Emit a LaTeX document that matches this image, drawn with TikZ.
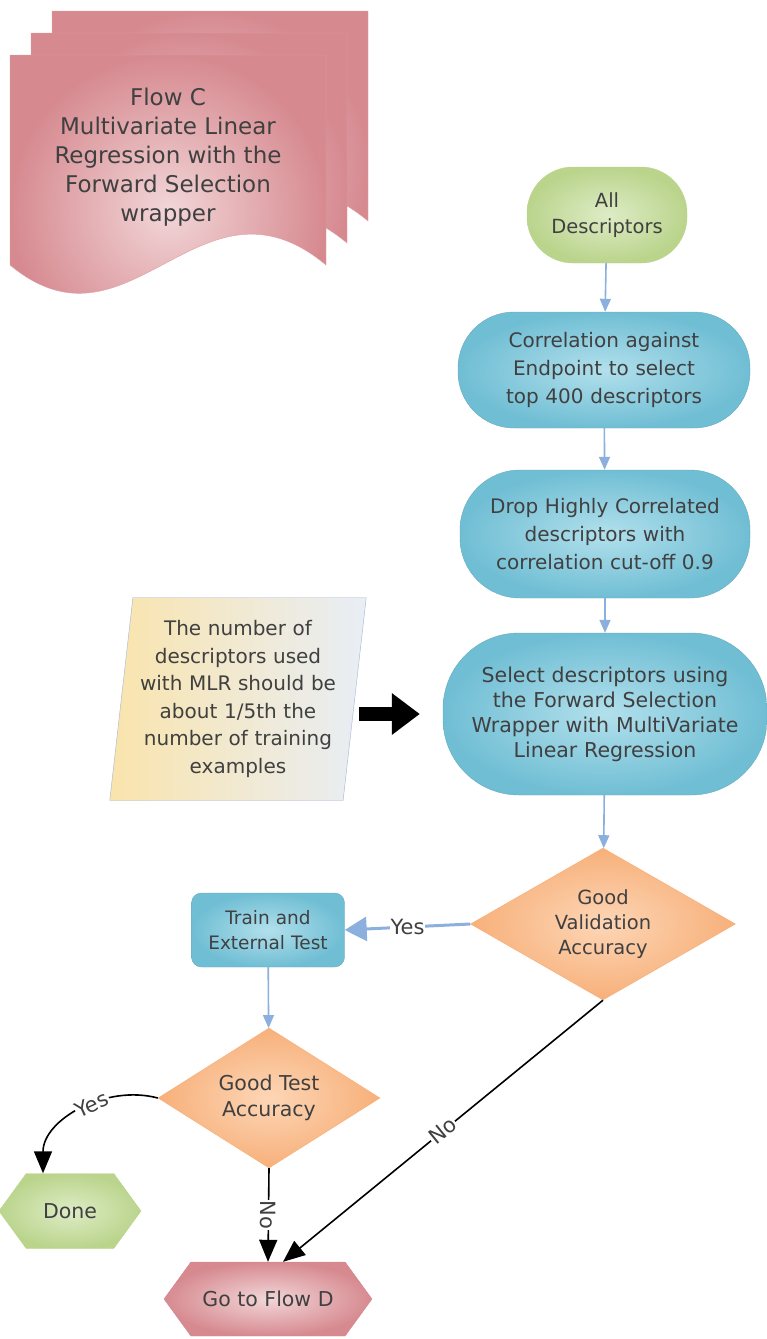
\documentclass[tikz,border=0pt]{standalone}
\usepackage{fontspec}
\setmainfont{DejaVu Sans}
\usepackage{tikz}
\usetikzlibrary{shapes.geometric,shapes.symbols,arrows.meta,positioning}
\definecolor{tealfill}{RGB}{112,190,212}
\definecolor{tealglow}{RGB}{178,224,236}
\definecolor{leafgreen}{RGB}{186,212,140}
\definecolor{leafglow}{RGB}{222,236,198}
\definecolor{peach}{RGB}{247,176,122}
\definecolor{peachglow}{RGB}{253,214,182}
\definecolor{rosered}{RGB}{214,138,144}
\definecolor{roseglow}{RGB}{242,214,216}
\definecolor{skyline}{RGB}{140,176,222}
\definecolor{inkgray}{RGB}{64,64,64}
\definecolor{notecream}{RGB}{250,228,172}
\definecolor{notemist}{RGB}{232,238,246}
\definecolor{noteedge}{RGB}{160,180,210}
\newcommand{\fsz}[2]{\fontsize{#1}{#2}\selectfont}

\begin{document}
\begin{tikzpicture}[x=1pt, y=-1pt,
    stadium/.style={rectangle, rounded corners=#1, align=center, inner sep=0pt, text=inkgray},
    decision/.style={diamond, align=center, inner sep=0pt, text=inkgray, inner color=peachglow, outer color=peach, draw=peach},
    hexa/.style={signal, signal to=west and east, signal pointer angle=108, align=center, inner sep=0pt, text=inkgray},
    blueshade/.style={inner color=tealglow, outer color=tealfill, draw=tealfill!90!black},
    greenshade/.style={inner color=leafglow, outer color=leafgreen, draw=leafgreen},
    roseshade/.style={inner color=roseglow, outer color=rosered, draw=rosered},
    flow/.style={-{Triangle[length=13pt,width=11pt]}, draw=skyline, line width=1.6pt},
    decide/.style={-{Triangle[length=22pt,width=18pt]}, draw=black, line width=1.6pt},
    lbl/.style={fill=white, inner sep=1pt, text=inkgray, font=\fsz{21}{21}}]
    \useasboundingbox (0,0) rectangle (767,1339);

    % Stacked documents: flow title
    \foreach \dx/\dy in {42/-44, 21/-22, 0/0} {
        \begin{scope}[shift={(\dx,\dy)}]
            \shade[inner color=roseglow, outer color=rosered, draw=rosered!80!white]
                (10,55) -- (326,55) -- (326,265) .. controls (200,160) and (130,365) .. (10,265) -- cycle;
        \end{scope}
    }
    \node[align=center, text=inkgray, font=\fsz{23}{29}] (flowc) at (168,157) {
        Flow C\\Multivariate Linear\\Regression with the\\Forward Selection\\wrapper
    };

    % Main column
    \node[stadium=46pt, greenshade, minimum width=160pt, minimum height=96pt, text width=150pt, font=\fsz{19.5}{26}] (alldesc) at (607,215) {
        All\\Descriptors
    };
    \node[stadium=56pt, blueshade, minimum width=292pt, minimum height=116pt, text width=260pt, font=\fsz{20}{28}] (correl) at (604,370) {
        Correlation against\\Endpoint to select\\top 400 descriptors
    };
    \node[stadium=60pt, blueshade, minimum width=290pt, minimum height=128pt, text width=260pt, font=\fsz{20}{28}] (dropcorr) at (605,534) {
        Drop Highly Correlated\\descriptors with\\correlation cut-off 0.9
    };
    \node[stadium=76pt, blueshade, minimum width=324pt, minimum height=162pt, text width=300pt, font=\fsz{20.5}{25}] (fwdsel) at (605,714) {
        Select descriptors using\\the Forward Selection\\Wrapper with MultiVariate\\Linear Regression
    };
    \node[decision, minimum width=265pt, minimum height=152pt, aspect=1.75, font=\fsz{19.5}{25}] (valacc) at (603,924) {
        Good\\Validation\\Accuracy
    };

    % Left column
    \node[stadium=10pt, blueshade, minimum width=153pt, minimum height=74pt, text width=150pt, font=\fsz{18.5}{25}] (trainext) at (268,930) {
        Train and\\External Test
    };
    \node[decision, minimum width=222pt, minimum height=140pt, aspect=1.6, font=\fsz{20.5}{26}] (testacc) at (269,1098) {
        Good Test\\Accuracy
    };
    \node[hexa, greenshade, minimum width=142pt, minimum height=75pt, font=\fsz{20.5}{25}] (done) at (70,1211) {Done};
    \node[hexa, roseshade, minimum width=208pt, minimum height=74pt, font=\fsz{20.5}{25}] (flowd) at (268,1299) {Go to Flow D};

    % Side note
    \node[trapezium, trapezium left angle=82, trapezium right angle=98, trapezium stretches=true,
          minimum width=257pt, minimum height=203pt, inner sep=0pt, left color=notecream, right color=notemist,
          draw=noteedge, text width=200pt, align=center, text=inkgray, font=\fsz{20}{27.5}] (mlrnote) at (238,699) {
        The number of\\descriptors used\\with MLR should be\\about 1/5th the\\number of training\\examples
    };

    % Connectors
    \draw[flow] (alldesc) -- (correl);
    \draw[flow] (correl) -- (dropcorr);
    \draw[flow] (dropcorr) -- (fwdsel);
    \draw[flow] (fwdsel) -- (valacc);
    \draw[-{Triangle[length=28pt,width=40pt]}, line width=14pt, shorten <=4pt, shorten >=23pt] (mlrnote.east |- fwdsel.west) -- (fwdsel.west);
    \draw[-{Triangle[length=22pt,width=24pt]}, draw=skyline, line width=3pt] (valacc.west) -- node[lbl] {Yes} (trainext.east);
    \draw[flow] (trainext) -- (testacc);
    \draw[decide] (testacc.west) to[out=165, in=90] node[lbl, pos=0.42, sloped] {Yes} ([xshift=-27pt]done.north);
    \draw[decide] (testacc.south) -- node[lbl, rotate=-90] {No} (flowd.north);
    \draw[decide] (valacc.south) -- node[lbl, sloped] {No} ([xshift=15pt]flowd.north);
\end{tikzpicture}
\end{document}
